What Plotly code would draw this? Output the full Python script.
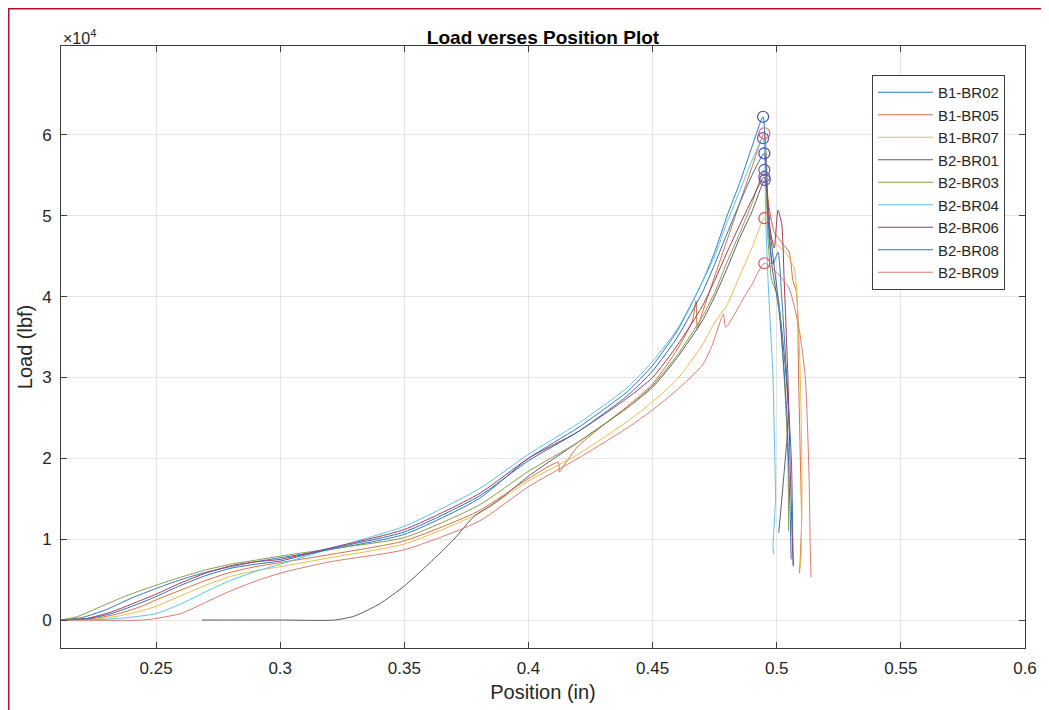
import plotly.graph_objects as go

# series names as in the legend
names = ["B1-BR02", "B1-BR05", "B1-BR07", "B2-BR01", "B2-BR03",
         "B2-BR04", "B2-BR06", "B2-BR08", "B2-BR09"]

# position (in) / load (lbf)
b1_br02_x = [0.211, 0.22, 0.23, 0.24, 0.25, 0.26, 0.27, 0.28, 0.29, 0.30, 0.32, 0.35, 0.38, 0.40, 0.42, 0.44,
             0.45, 0.46, 0.47, 0.475, 0.48, 0.485, 0.49, 0.4945, 0.4955, 0.497, 0.4985, 0.5005, 0.502, 0.5033,
             0.5059, 0.5066]
b1_br02_y = [0, 300, 1300, 2700, 3900, 5000, 5900, 6600, 7200, 7700, 8700, 10600, 15000, 20000, 23800, 28300,
             31500, 35800, 41800, 45500, 50000, 54000, 58500, 62250, 55000, 47000, 44000, 45500, 40000, 33800,
             19800, 6600]

b1_br05_x = [0.211, 0.225, 0.235, 0.245, 0.25, 0.26, 0.27, 0.28, 0.29, 0.30, 0.32, 0.35, 0.38, 0.40, 0.412,
             0.4125, 0.414, 0.42, 0.44, 0.45, 0.46, 0.466, 0.4675, 0.468, 0.4695, 0.475, 0.48, 0.485, 0.49, 0.495,
             0.4965, 0.499, 0.5025, 0.505, 0.5065, 0.508, 0.5088, 0.5095, 0.510, 0.5092]
b1_br05_y = [0, 200, 800, 1800, 2500, 3700, 4900, 5900, 6600, 7100, 8100, 9800, 13500, 17500, 19500,
             18300, 19000, 21500, 26500, 29200, 33500, 37000, 39500, 36000, 37500, 42500, 47000, 51500, 56000, 60210,
             52000, 48000, 46500, 45500, 42000, 40500, 30000, 20000, 12000, 5800]

b1_br07_x = [0.211, 0.225, 0.235, 0.245, 0.25, 0.26, 0.27, 0.28, 0.29, 0.30, 0.32, 0.35, 0.38, 0.40, 0.42, 0.44,
             0.45, 0.46, 0.47, 0.475, 0.48, 0.485, 0.49, 0.495, 0.498, 0.5035, 0.507, 0.5085, 0.5095, 0.5102,
             0.5098, 0.5096]
b1_br07_y = [0, 100, 500, 1200, 1700, 3000, 4300, 5400, 6100, 6600, 7700, 9400, 13200, 17200, 20500, 24600,
             27000, 29800, 34000, 36800, 39000, 42500, 46000, 49700, 47000, 45500, 43500, 38000, 30000, 17000,
             8000, 6500]

b2_br01_x = [0.2685, 0.28, 0.30, 0.322, 0.33, 0.34, 0.35, 0.36, 0.37, 0.378, 0.385, 0.39, 0.40, 0.42, 0.44, 0.45,
             0.46, 0.47, 0.475, 0.48, 0.485, 0.49, 0.4952, 0.4965, 0.4985, 0.502, 0.5047, 0.5027, 0.5008]
b2_br01_y = [0, 0, 0, 0, 500, 2000, 4200, 7000, 10000, 12800, 14200, 15300, 17800, 22000, 26300, 28800,
             32500, 37000, 40000, 43500, 47200, 50500, 54430, 50000, 45000, 36000, 25600, 17300, 10800]

b2_br03_x = [0.211, 0.218, 0.228, 0.238, 0.25, 0.26, 0.27, 0.28, 0.29, 0.30, 0.32, 0.35, 0.38, 0.40, 0.42, 0.44,
             0.45, 0.46, 0.47, 0.475, 0.48, 0.485, 0.49, 0.495, 0.4965, 0.498, 0.5005, 0.503, 0.5045, 0.5048]
b2_br03_y = [0, 400, 1700, 3000, 4300, 5300, 6200, 6900, 7400, 7900, 8800, 10200, 14200, 18400, 22000, 26300,
             29000, 32800, 37500, 40500, 44300, 47800, 51500, 55670, 47000, 42000, 40000, 30000, 20000, 11000]

b2_br04_x = [0.211, 0.23, 0.24, 0.25, 0.26, 0.27, 0.28, 0.29, 0.30, 0.32, 0.35, 0.38, 0.40, 0.42, 0.44, 0.45,
             0.46, 0.47, 0.475, 0.48, 0.485, 0.49, 0.4945, 0.4955, 0.4965, 0.4975, 0.4985, 0.499, 0.4995, 0.4985,
             0.4988]
b2_br04_y = [0, 100, 350, 800, 2000, 3500, 4900, 6000, 6900, 8800, 11600, 16200, 20500, 24300, 28800, 32000,
             36000, 41800, 45000, 49200, 53000, 56800, 59600, 50000, 42000, 36000, 30000, 23000, 15000, 9000,
             8200]

b2_br06_x = [0.211, 0.222, 0.232, 0.242, 0.25, 0.26, 0.27, 0.28, 0.29, 0.30, 0.32, 0.35, 0.38, 0.40, 0.42, 0.44,
             0.45, 0.46, 0.47, 0.475, 0.48, 0.485, 0.49, 0.495, 0.4975, 0.499, 0.5005, 0.502, 0.503, 0.5045,
             0.5055, 0.5065, 0.5068]
b2_br06_y = [0, 200, 1000, 2200, 3200, 4600, 5800, 6700, 7200, 7500, 8900, 11200, 15600, 20000, 23300, 27500,
             30000, 34000, 38800, 42000, 45500, 48800, 52000, 54800, 48000, 46000, 50700, 49000, 42000, 30000,
             18000, 8000, 6800]

b2_br08_x = [0.211, 0.222, 0.232, 0.242, 0.25, 0.26, 0.27, 0.28, 0.29, 0.30, 0.32, 0.35, 0.38, 0.40, 0.42, 0.44,
             0.45, 0.46, 0.47, 0.475, 0.48, 0.485, 0.49, 0.495, 0.4965, 0.498, 0.501, 0.504, 0.5055, 0.5058]
b2_br08_y = [0, 150, 800, 1900, 2900, 4300, 5500, 6400, 6900, 7300, 8800, 10900, 15300, 19700, 23300, 27800,
             30800, 35000, 40500, 44000, 47800, 51500, 55000, 57730, 50000, 44000, 38000, 26000, 12000, 7500]

b2_br09_x = [0.211, 0.245, 0.25, 0.26, 0.27, 0.28, 0.29, 0.30, 0.32, 0.35, 0.38, 0.40, 0.42, 0.44, 0.45, 0.46,
             0.47, 0.474, 0.4785, 0.4795, 0.487, 0.49, 0.495, 0.500, 0.505, 0.509, 0.5115, 0.513, 0.5135, 0.5138]
b2_br09_y = [0, 0, 200, 800, 2200, 3600, 4800, 5800, 7200, 8700, 12200, 16500, 20000, 23800, 26000, 28500,
             31500, 34000, 37800, 36200, 40000, 41500, 44130, 43000, 41000, 36000, 30000, 18000, 9000, 5300]

xs = [b1_br02_x, b1_br05_x, b1_br07_x, b2_br01_x, b2_br03_x, b2_br04_x, b2_br06_x, b2_br08_x, b2_br09_x]
ys = [b1_br02_y, b1_br05_y, b1_br07_y, b2_br01_y, b2_br03_y, b2_br04_y, b2_br06_y, b2_br08_y, b2_br09_y]

y_ticks = [0, 10000, 20000, 30000, 40000, 50000, 60000]
y_tick_text = ["0", "1", "2", "3", "4", "5", "6"]
x_ticks = [0.25, 0.3, 0.35, 0.4, 0.45, 0.5, 0.55, 0.6]
x_tick_text = ["0.25", "0.3", "0.35", "0.4", "0.45", "0.5", "0.55", "0.6"]

line_colors = ["#2f78c0", "#d8703c", "#e8bd4a", "#5f5a66", "#8a9a48",
               "#5cc3e6", "#a23a5a", "#2f6fb8", "#e07a6e"]
marker_colors = ["#3b4cc8", "#e2687c", "#e0505e", "#6a55b0", "#6a55b0",
                 "#6a55b0", "#6a55b0", "#3b4cc8", "#e0505e"]

FONT = "Liberation Sans, Arial, Helvetica, sans-serif"

fig = go.Figure()
for i, name in enumerate(names):
    fig.add_trace(go.Scatter(
        x=xs[i], y=ys[i], mode="lines", name=name,
        line=dict(color=line_colors[i], width=1, shape="spline", smoothing=0.6)
    ))

# circle at the maximum load of each test
for i, name in enumerate(names):
    k = ys[i].index(max(ys[i]))
    fig.add_trace(go.Scatter(
        x=[xs[i][k]], y=[ys[i][k]], mode="markers", showlegend=False,
        marker=dict(symbol="circle-open", size=11, color=marker_colors[i], line=dict(width=1.2))
    ))

axis_style = dict(
    showline=True, linecolor="#3c3c3c", linewidth=1, mirror="ticks",
    ticks="inside", ticklen=6, tickcolor="#3c3c3c",
    showgrid=True, gridcolor="#e4e4e4", gridwidth=1, zeroline=False,
    tickfont=dict(family=FONT, size=17, color="#262626"),
)

fig.update_xaxes(range=[0.2117, 0.6], tickvals=x_ticks, ticktext=x_tick_text, ticklabelstandoff=5,
                 title=dict(text="Position (in)", standoff=7,
                            font=dict(family=FONT, size=20, color="#262626")),
                 **axis_style)
fig.update_yaxes(range=[-3460, 71000], tickvals=y_ticks, ticktext=y_tick_text, ticklabelstandoff=5,
                 title=dict(text="Load (lbf)", standoff=4,
                            font=dict(family=FONT, size=20, color="#262626")),
                 **axis_style)

# the page body adds an 8 px margin, so the figure is 8 px smaller on each side
fig.update_layout(
    width=1041, height=702,
    margin=dict(l=53, r=24, t=38, b=62),
    paper_bgcolor="white", plot_bgcolor="white",
    title=dict(text="<b>Load verses Position Plot</b>", x=0.5, xref="paper", y=1 - 29.5 / 702,
               yanchor="middle", font=dict(family=FONT, size=19, color="#000")),
    legend=dict(x=(864 - 53) / 964, y=(640 - 67) / 602, xanchor="left", yanchor="top", bgcolor="white",
                bordercolor="#3c3c3c", borderwidth=1, itemwidth=55,
                font=dict(family=FONT, size=15, color="#262626")),
    annotations=[dict(text="\u00d710<sup>4</sup>", xref="paper", yref="paper", x=0, y=1,
                      xanchor="left", yanchor="bottom", yshift=-3, showarrow=False,
                      font=dict(family=FONT, size=16, color="#262626"))],
    shapes=[dict(type="rect", xref="paper", yref="paper",
                 x0=(0.75 - 53) / 964, x1=(1038 - 53) / 964, y0=-0.2, y1=(640 - 0.75) / 602,
                 line=dict(color="#b0102c", width=1.5))],
)

fig.write_html("out.html")
